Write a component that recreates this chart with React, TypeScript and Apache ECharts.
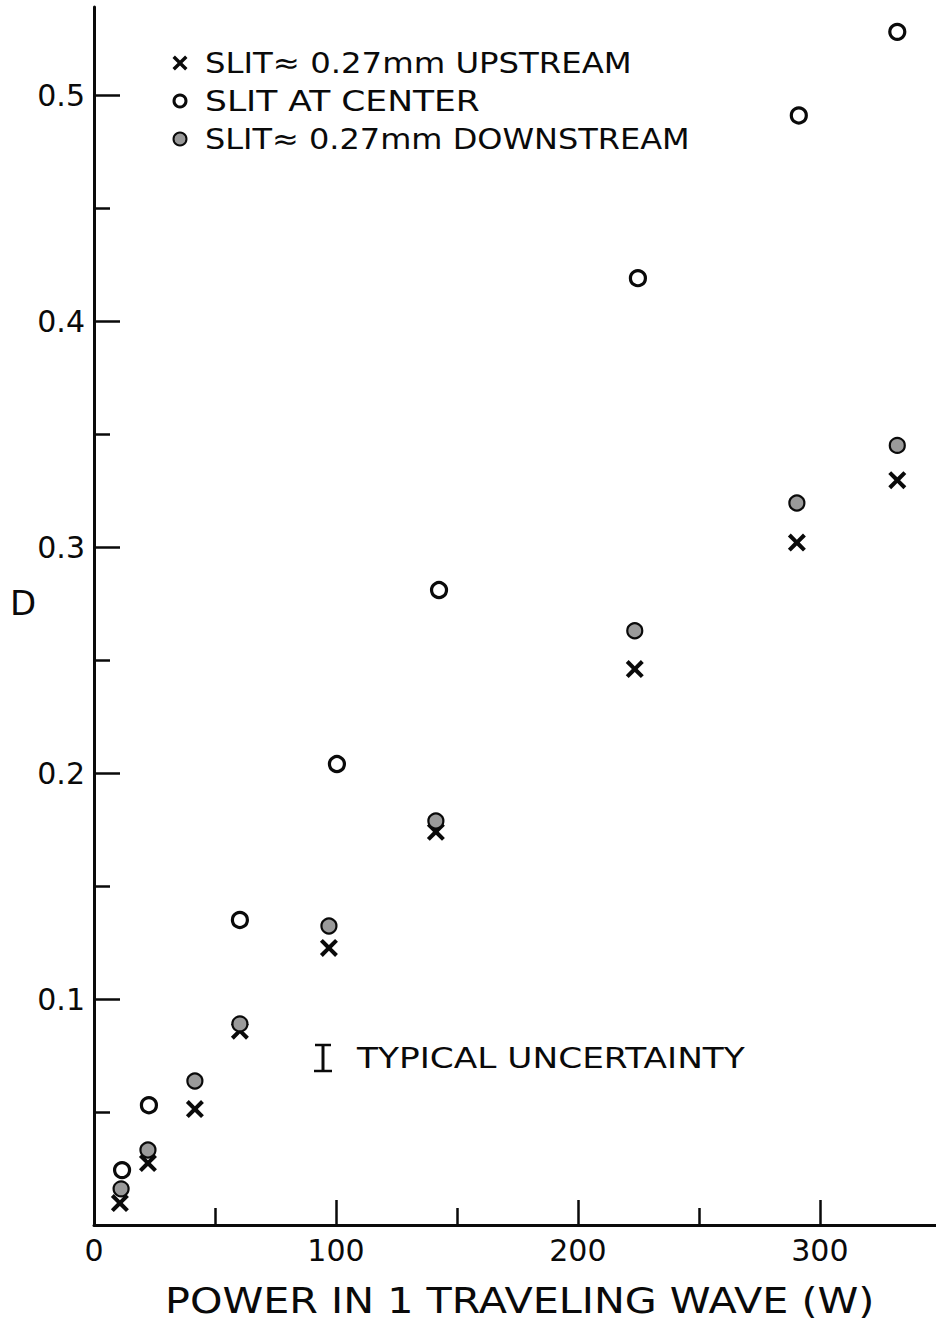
import React, { useEffect, useRef } from "react";
import * as echarts from "echarts";

// ---- data ----
const powerUpstream = [10.7, 22.3, 41.7, 60.3, 97.1, 141.3, 223.5, 290.5, 332];
const dUpstream = [0.0097, 0.0274, 0.0513, 0.086, 0.1226, 0.174, 0.246, 0.302, 0.3296];

const powerCenter = [11.6, 22.7, 60.3, 100.4, 142.6, 224.8, 291.3, 332];
const dCenter = [0.0243, 0.053, 0.135, 0.204, 0.281, 0.419, 0.491, 0.528];

const powerDownstream = [11.2, 22.3, 41.7, 60.3, 97.1, 141.3, 223.5, 290.5, 332];
const dDownstream = [0.016, 0.0332, 0.0637, 0.089, 0.1323, 0.1788, 0.263, 0.3195, 0.345];

const seriesNames = [
  "SLIT\u2248 0.27mm UPSTREAM",
  "SLIT AT CENTER",
  "SLIT\u2248 0.27mm DOWNSTREAM",
];

const xMajorTicks = [100, 200, 300];
const xLabelTicks = [0, 100, 200, 300];
const xMinorTicks = [50, 150, 250];
const yMajorTicks = [0.1, 0.2, 0.3, 0.4, 0.5];
const yMinorTicks = [0.05, 0.15, 0.25, 0.35, 0.45];

const xTitle = "POWER IN 1 TRAVELING WAVE (W)";
const yTitle = "D";
const noteText = "TYPICAL UNCERTAINTY";

const FONT = "DejaVu Sans";
const INK = "#0a0a0a";
const X_PATH =
  "path://M0,1.6 L1.6,0 L5,3.4 L8.4,0 L10,1.6 L6.6,5 L10,8.4 L8.4,10 L5,6.6 L1.6,10 L0,8.4 L3.4,5 Z";

function fitScale(text: string, size: number, target: number): number {
  const ctx = document.createElement("canvas").getContext("2d");
  if (!ctx) return 1;
  ctx.font = `${size}px "${FONT}"`;
  const w = ctx.measureText(text).width;
  return w > 0 ? target / w : 1;
}

function xPolygon(cx: number, cy: number, s: number): number[][] {
  const a = 1.6;
  const pts = [
    [0, a], [a, 0], [5, 5 - a], [10 - a, 0], [10, a], [5 + a, 5],
    [10, 10 - a], [10 - a, 10], [5, 5 + a], [a, 10], [0, 10 - a], [5 - a, 5],
  ];
  return pts.map(([px, py]) => [cx + ((px - 5) * s) / 10, cy + ((py - 5) * s) / 10]);
}

export default function App() {
  const ref = useRef<HTMLDivElement>(null);

  useEffect(() => {
    if (!ref.current) return;
    const chart = echarts.init(ref.current, null, { renderer: "svg" });

    const legendFont = 29;
    const legendX = 205;
    const legendY = [63, 101, 139];
    const legendW = [427, 275, 485];

    const textEl = (text: string, x: number, y: number, size: number, target: number) => ({
      type: "text",
      x,
      y,
      scaleX: fitScale(text, size, target),
      style: {
        text,
        fill: INK,
        font: `${size}px "${FONT}"`,
        textAlign: "left",
        textVerticalAlign: "middle",
      },
    });

    const graphic: any[] = [
      {
        type: "text",
        x: 23,
        y: 603,
        style: {
          text: yTitle,
          fill: INK,
          font: `34px "${FONT}"`,
          textAlign: "center",
          textVerticalAlign: "middle",
        },
      },
      textEl(xTitle, 165, 1300, 36, 710),
      {
        type: "polygon",
        shape: { points: xPolygon(180, legendY[0], 15) },
        style: { fill: INK },
      },
      {
        type: "circle",
        shape: { cx: 180, cy: legendY[1], r: 6 },
        style: { fill: "#fff", stroke: INK, lineWidth: 3 },
      },
      {
        type: "circle",
        shape: { cx: 180, cy: legendY[2], r: 6.5 },
        style: { fill: "#999", stroke: INK, lineWidth: 2 },
      },
      ...seriesNames.map((n, i) => textEl(n, legendX, legendY[i], legendFont, legendW[i])),
      {
        type: "line",
        shape: { x1: 323, y1: 1045, x2: 323, y2: 1071 },
        style: { stroke: INK, lineWidth: 3 },
      },
      {
        type: "line",
        shape: { x1: 315, y1: 1045, x2: 331, y2: 1045 },
        style: { stroke: INK, lineWidth: 2.5 },
      },
      {
        type: "line",
        shape: { x1: 314, y1: 1071, x2: 332, y2: 1071 },
        style: { stroke: INK, lineWidth: 2.5 },
      },
      textEl(noteText, 357, 1058, 28, 388),
    ];

    const yMax = 0.539;
    const xMax = 348;

    chart.setOption({
      animation: false,
      backgroundColor: "#fff",
      grid: { left: 94, right: 0, top: 7, bottom: 95, containLabel: false },
      xAxis: [
        {
          type: "value",
          min: 0,
          max: xMax,
          position: "bottom",
          axisLine: { show: true, onZero: false, lineStyle: { color: INK, width: 3 } },
          axisTick: {
            show: true,
            inside: true,
            length: 25,
            customValues: xMajorTicks,
            lineStyle: { color: INK, width: 2.5 },
          },
          axisLabel: {
            show: true,
            customValues: xLabelTicks,
            color: INK,
            fontFamily: FONT,
            fontSize: 30,
            margin: 10,
            formatter: (v: number) => String(Math.round(v)),
          },
          splitLine: { show: false },
        },
        {
          type: "value",
          min: 0,
          max: xMax,
          position: "bottom",
          axisLine: { show: false },
          axisTick: {
            show: true,
            inside: true,
            length: 17,
            customValues: xMinorTicks,
            lineStyle: { color: INK, width: 2.5 },
          },
          axisLabel: { show: false },
          splitLine: { show: false },
        },
      ],
      yAxis: [
        {
          type: "value",
          min: 0,
          max: yMax,
          position: "left",
          axisLine: { show: true, onZero: false, lineStyle: { color: INK, width: 3 } },
          axisTick: {
            show: true,
            inside: true,
            length: 26,
            customValues: yMajorTicks,
            lineStyle: { color: INK, width: 2.5 },
          },
          axisLabel: {
            show: true,
            customValues: yMajorTicks,
            color: INK,
            fontFamily: FONT,
            fontSize: 30,
            margin: 9,
            formatter: (v: number) => v.toFixed(1),
          },
          splitLine: { show: false },
        },
        {
          type: "value",
          min: 0,
          max: yMax,
          position: "left",
          axisLine: { show: false },
          axisTick: {
            show: true,
            inside: true,
            length: 16,
            customValues: yMinorTicks,
            lineStyle: { color: INK, width: 2.5 },
          },
          axisLabel: { show: false },
          splitLine: { show: false },
        },
      ],
      series: [
        {
          name: seriesNames[0],
          type: "scatter",
          xAxisIndex: 0,
          yAxisIndex: 0,
          symbol: X_PATH,
          symbolSize: 18,
          itemStyle: { color: INK, opacity: 1 },
          data: powerUpstream.map((p, i) => [p, dUpstream[i]]),
          z: 2,
        },
        {
          name: seriesNames[1],
          type: "scatter",
          xAxisIndex: 0,
          yAxisIndex: 0,
          symbol: "circle",
          symbolSize: 15,
          itemStyle: { color: "#fff", borderColor: INK, borderWidth: 3.2, opacity: 1 },
          data: powerCenter.map((p, i) => [p, dCenter[i]]),
          z: 3,
        },
        {
          name: seriesNames[2],
          type: "scatter",
          xAxisIndex: 0,
          yAxisIndex: 0,
          symbol: "circle",
          symbolSize: 15,
          itemStyle: { color: "#9a9a9a", borderColor: INK, borderWidth: 2.2, opacity: 1 },
          data: powerDownstream.map((p, i) => [p, dDownstream[i]]),
          z: 4,
        },
      ],
      graphic,
    });

    return () => chart.dispose();
  }, []);

  return (
    <div
      ref={ref}
      style={{ position: "absolute", left: 0, top: 0, width: 936, height: 1320, background: "#fff" }}
    />
  );
}
